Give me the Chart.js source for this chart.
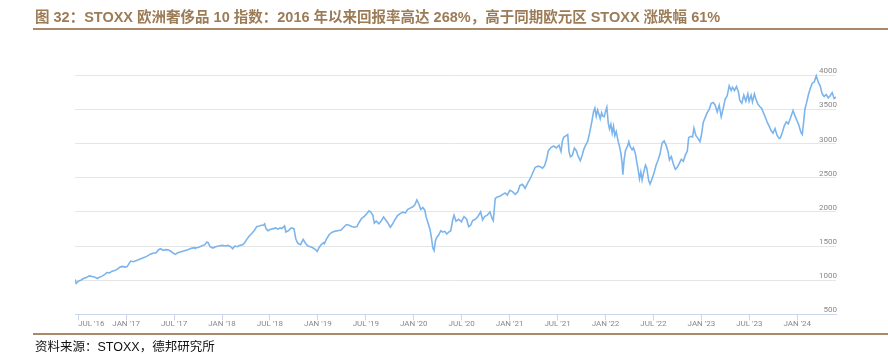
<!DOCTYPE html>
<html>
<head>
<meta charset="utf-8">
<script src="https://cdn.jsdelivr.net/npm/chart.js@4.4.1/dist/chart.umd.min.js"></script>
<style>
  body { margin: 0; background: #fff; }
  #wrap { position: relative; width: 888px; height: 354px; overflow: hidden; }
  #chart { position: absolute; left: 0; top: 0; }
  .title { position: absolute; left: 35px; top: 5px; font: bold 14.5px "Liberation Sans", "Noto Sans CJK SC", sans-serif; color: #9c7c56; white-space: nowrap; }
  .rule { position: absolute; left: 33px; right: 0; height: 2px; background: #a8896a; }
  .source { position: absolute; left: 35px; top: 336px; font: 12.5px "Liberation Sans", "Noto Sans CJK SC", sans-serif; color: #111; white-space: nowrap; }
</style>
</head>
<body>
<div id="wrap">
  <canvas id="chart" width="888" height="354"></canvas>
  <div class="title">图 32：STOXX 欧洲奢侈品 10 指数：2016 年以来回报率高达 268%，高于同期欧元区 STOXX 涨跌幅 61%</div>
  <div class="rule" style="top:28px"></div>
  <div class="rule" style="top:333px"></div>
  <div class="source">资料来源：STOXX，德邦研究所</div>
</div>
<script>
// x = months since Jan 2016 (12 = Jan '17), y = index level
const months = [
  5.58,5.75,6.0,6.33,6.66,7.08,7.41,7.75,8.08,8.41,8.66,9.0,9.33,9.58,9.91,10.24,10.57,10.91,11.24,11.57,
  11.9,12.15,12.4,12.57,12.9,13.32,13.74,14.15,14.57,14.98,15.4,15.73,16.06,16.31,16.65,16.98,17.31,17.56,17.9,18.14,
  18.48,18.89,19.31,19.73,20.14,20.56,
  20.6,21.02,21.43,21.85,22.1,22.26,22.51,22.85,23.18,23.6,24.01,24.43,24.76,25.09,25.34,25.59,25.92,26.26,26.59,26.84,
  27.09,27.42,27.75,28.09,28.34,28.67,28.92,29.17,29.34,29.5,29.75,30.09,30.42,30.75,31.0,31.25,31.5,31.83,32.0,32.33,
  32.66,33.0,33.25,33.5,33.83,34.16,34.41,34.74,35.08,35.41,35.66,35.91,36.16,36.41,36.74,
  36.82,37.07,37.4,37.74,38.07,38.48,38.9,39.23,39.57,39.9,40.23,40.56,40.9,41.15,41.48,41.81,42.14,42.39,42.64,42.89,
  43.06,43.31,43.64,43.97,44.22,44.47,44.72,45.06,45.31,45.64,45.97,46.3,46.64,46.97,47.22,47.55,47.89,48.14,48.39,48.64,
  48.88,49.13,49.38,49.55,49.8,50.05,50.21,50.38,50.55,50.71,50.88,51.13,51.38,51.63,51.88,52.13,52.38,52.63,52.88,
  53.04,53.29,53.62,53.96,54.29,54.62,54.87,55.12,55.37,55.7,56.03,56.37,56.62,56.87,57.2,57.53,57.78,57.95,58.2,58.45,
  58.78,59.11,59.45,59.7,60.03,60.36,60.7,61.03,61.28,61.61,61.94,62.27,62.61,62.86,63.19,63.52,63.86,64.11,64.35,64.6,
  64.85,65.19,65.52,65.85,66.18,66.43,66.6,66.77,67.02,67.27,67.43,67.6,67.85,68.1,68.35,68.6,68.85,69.1,
  69.26,69.51,69.76,70.01,70.26,70.51,70.67,70.84,71.01,71.17,71.34,71.51,71.67,71.84,72.0,72.17,72.34,72.5,72.67,72.84,
  73.0,73.17,73.34,73.59,73.75,73.92,74.08,74.17,74.33,74.5,74.75,74.92,75.08,75.33,75.5,75.75,75.92,76.08,76.25,76.42,
  76.58,76.75,77.0,77.16,77.41,77.58,77.83,78.08,78.33,78.58,78.83,79.08,79.33,79.58,79.83,80.0,80.24,80.49,80.74,80.99,
  81.24,81.49,81.74,81.99,82.24,82.41,82.65,82.9,83.07,83.32,83.57,83.82,83.98,84.24,84.49,84.73,84.98,85.23,
  85.48,85.73,85.98,86.23,86.48,86.73,86.98,87.23,87.48,87.73,87.89,88.14,88.39,88.64,88.81,89.06,89.31,89.56,89.81,89.97,
  90.22,90.39,90.64,90.8,91.05,91.3,91.55,91.72,91.97,92.22,92.47,92.72,92.97,93.22,93.47,93.72,93.88,94.13,94.38,94.63,
  94.88,95.13,95.47,95.72,95.96,96.21,96.46,96.63,96.8,96.96,97.13,97.38,97.63,97.88,98.13,98.38,98.62,98.87,99.12,99.37,
  99.62,99.88,100.12,100.37,100.62,100.87
];
const values = [
  1015,952,986,1001,1025,1045,1064,1055,1045,1025,1045,1060,1084,1113,1108,1133,1143,1162,1192,1202,
  1192,1202,1251,1280,1270,1290,1309,1329,1349,1378,1398,1398,1447,1461,1437,1447,1442,1427,1398,1378,
  1402,1417,1432,1447,1466,1476,
  1471,1480,1500,1520,1559,1549,1490,1471,1490,1500,1510,1500,1510,1490,1461,1500,1490,1510,1520,1549,
  1598,1647,1686,1735,1784,1794,1804,1804,1824,1755,1725,1745,1755,1765,1745,1765,1755,1794,1706,1725,
  1765,1755,1598,1539,1520,1598,1549,1500,1490,1471,1451,1422,1480,1520,1549,
  1535,1600,1665,1700,1715,1725,1735,1775,1815,1805,1785,1775,1785,1845,1905,1935,1975,2015,1995,1945,
  1835,1865,1825,1875,1925,1885,1845,1775,1815,1885,1945,1975,1995,1985,2035,2055,2075,2105,2175,2115,
  2035,2065,2025,1925,1835,1735,1625,1475,1435,1575,1625,1665,1725,1705,1715,1675,1705,1725,1885,
  1951,1863,1892,1853,1932,1892,1784,1804,1873,1892,1932,2000,1882,1932,1951,2000,1912,1873,2197,2217,
  2227,2256,2276,2246,2315,2296,2256,2295,2384,2404,2345,2423,2492,2561,2649,2669,2659,2640,2669,2758,
  2895,2944,2964,2935,2974,2885,3033,3092,3112,3131,2885,2807,2826,2935,2895,2807,2748,2836,
  2908,2977,3027,3155,3303,3470,3520,3401,3490,3431,3362,3451,3401,3392,3470,3530,3303,3214,3283,3155,
  3254,3115,3175,3027,2958,2859,2711,2544,2760,2899,2958,3027,2958,2908,2938,2849,2721,2622,2484,2583,
  2465,2563,2682,2642,2455,2406,2484,2573,2682,2760,2849,3007,3037,2977,2879,2760,2810,2701,2622,2652,
  2711,2770,2741,2830,2889,3086,3106,3096,3224,3115,3076,3027,3106,3313,3382,3451,3500,3589,
  3600,3561,3463,3561,3390,3512,3649,3698,3844,3776,3824,3776,3834,3756,3629,3590,3707,3620,3727,3620,
  3707,3610,3727,3659,3580,3541,3512,3463,3395,3317,3259,3190,3151,3220,3122,3073,3083,3161,3259,3317,
  3288,3366,3483,3405,3337,3268,3161,3132,3317,3502,3580,3707,3805,3883,3902,3990,3902,3844,3727,3688,
  3717,3668,3698,3746,3659,3678
];
const tickMonths = [6, 12, 18, 24, 30, 36, 42, 48, 54, 60, 66, 72, 78, 84, 90, 96, 100.85];
const tickLabels = ["JUL '16", "JAN '17", "JUL '17", "JAN '18", "JUL '18", "JAN '19", "JUL '19", "JAN '20",
  "JUL '20", "JAN '21", "JUL '21", "JAN '22", "JUL '22", "JAN '23", "JUL '23", "JAN '24", ""];

Chart.defaults.font.family = "Roboto";
Chart.defaults.font.size = 8;
Chart.defaults.color = "#888";

const chart = new Chart(document.getElementById("chart"), {
  type: "line",
  data: {
    datasets: [{
      data: months.map((m, i) => ({ x: m, y: values[i] })),
      borderColor: "#7cb5ec",
      borderWidth: 1.6,
      pointRadius: 0,
      tension: 0,
      fill: false,
    }],
  },
  options: {
    responsive: false,
    animation: false,
    layout: { padding: { left: 75, right: 50, top: 41, bottom: 26 } },
    plugins: { legend: { display: false }, tooltip: { enabled: false } },
    scales: {
      x: {
        type: "linear",
        min: 5.6,
        max: 100.85,
        afterBuildTicks: (scale) => {
          scale.ticks = tickMonths.map((v) => ({ value: v }));
        },
        ticks: {
          autoSkip: false,
          maxRotation: 0,
          align: "inner",
          padding: -1,
          callback: (value) => {
            const i = tickMonths.indexOf(value);
            return i >= 0 ? tickLabels[i] : "";
          },
        },
        grid: {
          drawOnChartArea: false,
          tickLength: 6,
          color: (ctx) => (ctx.index === tickMonths.length - 1 ? "rgba(0,0,0,0)" : "#ccd6eb"),
        },
        border: { color: "#ccd6eb", width: 1 },
      },
      y: {
        position: "right",
        min: 500,
        max: 4500,
        afterBuildTicks: (scale) => {
          scale.ticks = scale.ticks.filter((t) => t.value <= 4000);
        },
        ticks: {
          stepSize: 500,
          mirror: true,
          padding: 1,
          labelOffset: -4,
          callback: (value) => String(value),
        },
        grid: { color: "#e6e6e6", drawTicks: false },
        border: { display: false },
      },
    },
  },
});
</script>
</body>
</html>
